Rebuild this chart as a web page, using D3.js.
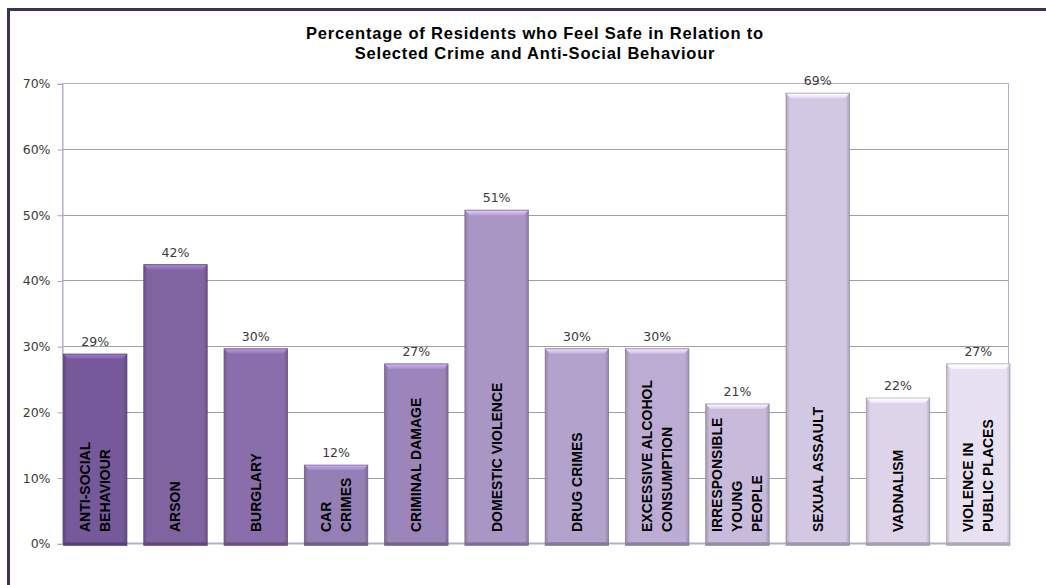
<!DOCTYPE html>
<html><head><meta charset="utf-8">
<script src="https://cdn.jsdelivr.net/npm/d3@7"></script>
<style>html,body{margin:0;padding:0;background:#fff;overflow:hidden}</style>
</head><body>
<svg id="c" width="1046" height="585"></svg>
<script>
const categories = [
  ["ANTI-SOCIAL","BEHAVIOUR"],["ARSON"],["BURGLARY"],["CAR","CRIMES"],["CRIMINAL DAMAGE"],
  ["DOMESTIC VIOLENCE"],["DRUG CRIMES"],["EXCESSIVE ALCOHOL","CONSUMPTION"],
  ["IRRESPONSIBLE","YOUNG","PEOPLE"],["SEXUAL ASSAULT"],["VADNALISM"],["VIOLENCE IN","PUBLIC PLACES"]
];
const values = [0.288, 0.424, 0.296, 0.119, 0.273, 0.507, 0.296, 0.296, 0.212, 0.685, 0.221, 0.273];
const valueLabels = ["29%","42%","30%","12%","27%","51%","30%","30%","21%","69%","22%","27%"];
const yTicks = [0,0.1,0.2,0.3,0.4,0.5,0.6,0.7];
const barColors = ["#75599b","#8064a2","#8a6eab","#9580b5","#9b85ba","#aa96c5","#b3a2cb","#bcacd3","#c8badb","#d3c8e3","#ddd4ea","#e7e1f1"];
const titleLines = ["Percentage of Residents who Feel Safe in Relation to","Selected Crime and Anti-Social Behaviour"];

const svg = d3.select("#c");
const L = 62, R = 1008, T = 83.3, B = 543.3;

// outer frame
svg.append("rect").attr("x",8.5).attr("y",9.5).attr("width",1100).attr("height",700)
  .attr("fill","#fff").attr("stroke","#3f3151").attr("stroke-width",3);

// title
svg.append("g").selectAll("text").data(titleLines).join("text")
  .attr("x",535).attr("y",(d,i)=>38.5+i*20).attr("text-anchor","middle")
  .attr("font-family","Liberation Sans, Arial, sans-serif").attr("font-weight","bold")
  .attr("font-size",16.5).attr("letter-spacing",0.8).attr("fill","#000").text(d=>d);

const y = d3.scaleLinear().domain([0,0.7]).range([B,T]);
const x = d3.scaleBand().domain(d3.range(categories.length)).range([63.5,1010]).paddingInner(0.21).paddingOuter(0);

// gridlines
svg.append("g").selectAll("line").data(yTicks.filter(t=>t>0)).join("line")
  .attr("x1",L).attr("x2",R).attr("y1",d=>Math.round(y(d))+0.5).attr("y2",d=>Math.round(y(d))+0.5)
  .attr("stroke","#a0a0a0").attr("stroke-width",1);
// plot border
svg.append("rect").attr("x",L+0.5).attr("y",Math.round(T)+0.5).attr("width",R-L).attr("height",Math.round(B)-Math.round(T))
  .attr("fill","none").attr("stroke","#b9abd0").attr("stroke-width",1);
svg.append("line").attr("x1",L).attr("x2",R).attr("y1",Math.round(B)+0.5).attr("y2",Math.round(B)+0.5).attr("stroke","#b9abd0").attr("stroke-width",2);

// y axis
const yAxis = d3.axisLeft(y).tickValues(yTicks).tickFormat(d3.format(".0%")).tickSize(5).tickPadding(7);
const ga = svg.append("g").attr("transform",`translate(${L+0.5},0.5)`).call(yAxis);
ga.select(".domain").attr("stroke","#b9abd0");
ga.selectAll(".tick line").attr("stroke","#a6a6a6");
ga.selectAll(".tick text").attr("font-family","DejaVu Sans, sans-serif").attr("font-size",12.5).attr("fill","#3a3a3a");

// gradients
const defs = svg.append("defs");
barColors.forEach((c,i)=>{
  const g = defs.append("linearGradient").attr("id","g"+i).attr("x1","0").attr("x2","1").attr("y1","0").attr("y2","0");
  const dk = d3.color(c).darker(0.55), lt = d3.color(c);
  g.append("stop").attr("offset","0").attr("stop-color",dk);
  g.append("stop").attr("offset","0.06").attr("stop-color",lt);
  g.append("stop").attr("offset","0.94").attr("stop-color",lt);
  g.append("stop").attr("offset","1").attr("stop-color",dk);
  const gt = defs.append("linearGradient").attr("id","t"+i).attr("x1","0").attr("x2","0").attr("y1","0").attr("y2","1");
  gt.append("stop").attr("offset","0").attr("stop-color",d3.color(c).brighter(0.8));
  gt.append("stop").attr("offset","1").attr("stop-color",d3.color(c).brighter(0.2));
});

const bars = svg.append("g").selectAll("g").data(values).join("g");
bars.append("rect")
  .attr("x",(d,i)=>x(i)).attr("y",d=>y(d)).attr("width",x.bandwidth()).attr("height",d=>B-y(d)+2)
  .attr("fill",(d,i)=>`url(#g${i})`).attr("stroke",(d,i)=>d3.color(barColors[i]).darker(0.9)).attr("stroke-width",0.8);
// top bevel
bars.append("path").attr("d",(d,i)=>{
  const x0=x(i), x1=x0+x.bandwidth(), yt=y(d), h=5;
  return `M${x0+0.5},${yt+0.5}L${x1-0.5},${yt+0.5}L${x1-4.5},${yt+h}L${x0+4.5},${yt+h}Z`;
}).attr("fill",(d,i)=>`url(#t${i})`);
// bottom shade
bars.append("rect").attr("x",(d,i)=>x(i)).attr("y",B-1).attr("width",x.bandwidth()).attr("height",3)
  .attr("fill",(d,i)=>d3.color(barColors[i]).darker(0.8));

// value labels
svg.append("g").selectAll("text").data(values).join("text")
  .attr("x",(d,i)=>x(i)+x.bandwidth()/2).attr("y",d=>y(d)-8).attr("text-anchor","middle")
  .attr("font-family","DejaVu Sans, sans-serif").attr("font-size",12.5).attr("fill","#3a3a3a")
  .text((d,i)=>valueLabels[i]);

// category labels
const cg = svg.append("g").selectAll("text").data(categories).join("text")
  .attr("transform",(d,i)=>{
    const cx = x(i)+x.bandwidth()/2;
    const n = d.length, lh = 20;
    const bx = cx - (n-1)*lh/2 + 5;
    return `translate(${bx},532) rotate(-90)`;
  })
  .attr("font-family","Liberation Sans, Arial, sans-serif").attr("font-weight","bold").attr("font-size",14).attr("fill","#000");
cg.selectAll("tspan").data(d=>d).join("tspan").attr("x",0).attr("dy",(d,j)=>j===0?0:20).text(d=>d);
</script>
</body></html>
